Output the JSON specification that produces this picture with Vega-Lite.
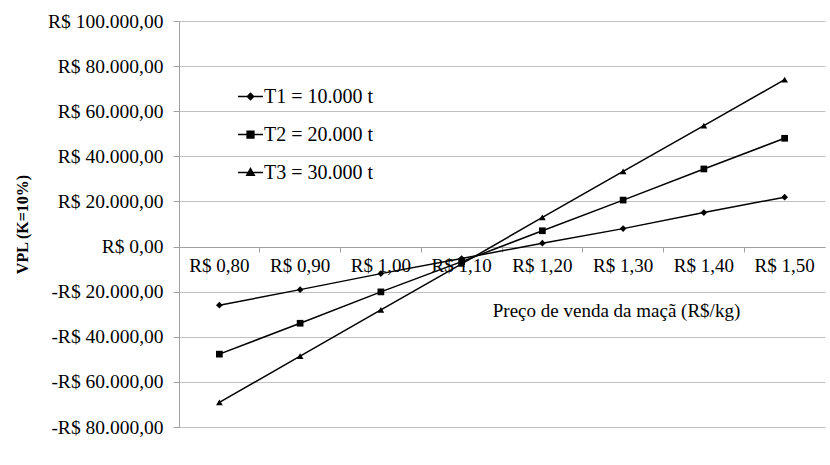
{
  "$schema": "https://vega.github.io/schema/vega-lite/v6.json",
  "width": 646,
  "height": 406,
  "autosize": "none",
  "padding": {"left": 179, "top": 21, "right": 5, "bottom": 38},
  "background": "white",
  "config": {
    "locale": {"number": {"decimal": ",", "thousands": ".", "grouping": [3], "currency": ["R$ ", ""], "minus": "-"}},
    "view": {"stroke": null},
    "font": "Liberation Serif",
    "axis": {"labelFont": "Liberation Serif", "titleFont": "Liberation Serif"},
    "legend": {"labelFont": "Liberation Serif", "titleFont": "Liberation Serif"}
  },
  "data": {
    "values": [
      {"preco": "R$ 0,80", "serie": "T1 = 10.000 t", "vpl": -26000},
      {"preco": "R$ 0,90", "serie": "T1 = 10.000 t", "vpl": -19100},
      {"preco": "R$ 1,00", "serie": "T1 = 10.000 t", "vpl": -12000},
      {"preco": "R$ 1,10", "serie": "T1 = 10.000 t", "vpl": -5300},
      {"preco": "R$ 1,20", "serie": "T1 = 10.000 t", "vpl": 1500},
      {"preco": "R$ 1,30", "serie": "T1 = 10.000 t", "vpl": 7950},
      {"preco": "R$ 1,40", "serie": "T1 = 10.000 t", "vpl": 15070},
      {"preco": "R$ 1,50", "serie": "T1 = 10.000 t", "vpl": 21900},
      {"preco": "R$ 0,80", "serie": "T2 = 20.000 t", "vpl": -47700},
      {"preco": "R$ 0,90", "serie": "T2 = 20.000 t", "vpl": -34000},
      {"preco": "R$ 1,00", "serie": "T2 = 20.000 t", "vpl": -20100},
      {"preco": "R$ 1,10", "serie": "T2 = 20.000 t", "vpl": -6700},
      {"preco": "R$ 1,20", "serie": "T2 = 20.000 t", "vpl": 7000},
      {"preco": "R$ 1,30", "serie": "T2 = 20.000 t", "vpl": 20600},
      {"preco": "R$ 1,40", "serie": "T2 = 20.000 t", "vpl": 34400},
      {"preco": "R$ 1,50", "serie": "T2 = 20.000 t", "vpl": 48000},
      {"preco": "R$ 0,80", "serie": "T3 = 30.000 t", "vpl": -69100},
      {"preco": "R$ 0,90", "serie": "T3 = 30.000 t", "vpl": -48600},
      {"preco": "R$ 1,00", "serie": "T3 = 30.000 t", "vpl": -28100},
      {"preco": "R$ 1,10", "serie": "T3 = 30.000 t", "vpl": -7700},
      {"preco": "R$ 1,20", "serie": "T3 = 30.000 t", "vpl": 12900},
      {"preco": "R$ 1,30", "serie": "T3 = 30.000 t", "vpl": 33300},
      {"preco": "R$ 1,40", "serie": "T3 = 30.000 t", "vpl": 53600},
      {"preco": "R$ 1,50", "serie": "T3 = 30.000 t", "vpl": 74000}
    ]
  },
  "encoding": {
    "x": {
      "field": "preco",
      "type": "nominal",
      "sort": null,
      "bandPosition": 0.5,
      "scale": {"type": "band", "paddingInner": 0, "paddingOuter": 0},
      "axis": {
        "title": "Preço de venda da maçã (R$/kg)",
        "offset": -180,
        "bandPosition": 0,
        "tickExtra": true,
        "labelAngle": 0,
        "labelOverlap": false,
        "grid": false,
        "domainColor": "#a0a0a0",
        "tickColor": "#a0a0a0",
        "tickSize": 5,
        "labelFont": "Liberation Serif",
        "labelFontSize": 19,
        "labelColor": "black",
        "labelPadding": 4,
        "titleFont": "Liberation Serif",
        "titleFontSize": 19,
        "titleFontWeight": "normal",
        "titleColor": "black",
        "titleX": 437,
        "titleY": 63,
        "titleBaseline": "middle",
        "titleAlign": "center"
      }
    },
    "y": {
      "field": "vpl",
      "type": "quantitative",
      "scale": {"domain": [-80000, 100000], "nice": false, "zero": false},
      "axis": {
        "title": "VPL (K=10%)",
        "values": [-80000, -60000, -40000, -20000, 0, 20000, 40000, 60000, 80000, 100000],
        "format": "$,.2f",
        "grid": true,
        "gridColor": "#c0c0c0",
        "domainColor": "#a0a0a0",
        "tickColor": "#a0a0a0",
        "tickSize": 6,
        "labelFont": "Liberation Serif",
        "labelFontSize": 19.5,
        "labelColor": "black",
        "labelPadding": 10,
        "titleFont": "Liberation Serif",
        "titleFontSize": 16,
        "titleFontWeight": "bold",
        "titleColor": "black",
        "titleX": -157,
        "titleY": 203,
        "titleAngle": -90,
        "titleBaseline": "middle",
        "titleAlign": "center"
      }
    }
  },
  "layer": [
    {
      "mark": {"type": "line", "color": "black", "strokeWidth": 1.5},
      "encoding": {"detail": {"field": "serie"}}
    },
    {
      "mark": {"type": "point", "filled": true, "color": "black", "opacity": 1, "size": 45},
      "encoding": {
        "shape": {
          "field": "serie",
          "type": "nominal",
          "scale": {"range": ["diamond", "square", "triangle-up"]},
          "legend": null
        }
      }
    },
    {
      "mark": {"type": "point", "filled": false, "fill": "black", "stroke": "black", "strokeWidth": 1.5, "opacity": 0},
      "encoding": {
        "shape": {
          "field": "serie",
          "type": "nominal",
          "scale": {"range": ["M-1,0H1M0,-0.25L0.25,0L0,0.25L-0.25,0Z", "M-1,0H1M-0.27,-0.27H0.27V0.27H-0.27Z", "M-1,0H1M0,-0.32L0.3,0.22H-0.3Z"]},
          "legend": {
            "title": null,
            "orient": "none",
            "legendX": 58,
            "legendY": 62,
            "symbolSize": 625,
            "symbolOpacity": 1,
            "symbolStrokeWidth": 1.5,
            "labelFont": "Liberation Serif",
            "labelFontSize": 20,
            "labelColor": "black",
            "rowPadding": 14,
            "labelOffset": 0
          }
        }
      }
    }
  ],
  "resolve": {"scale": {"shape": "independent"}}
}
